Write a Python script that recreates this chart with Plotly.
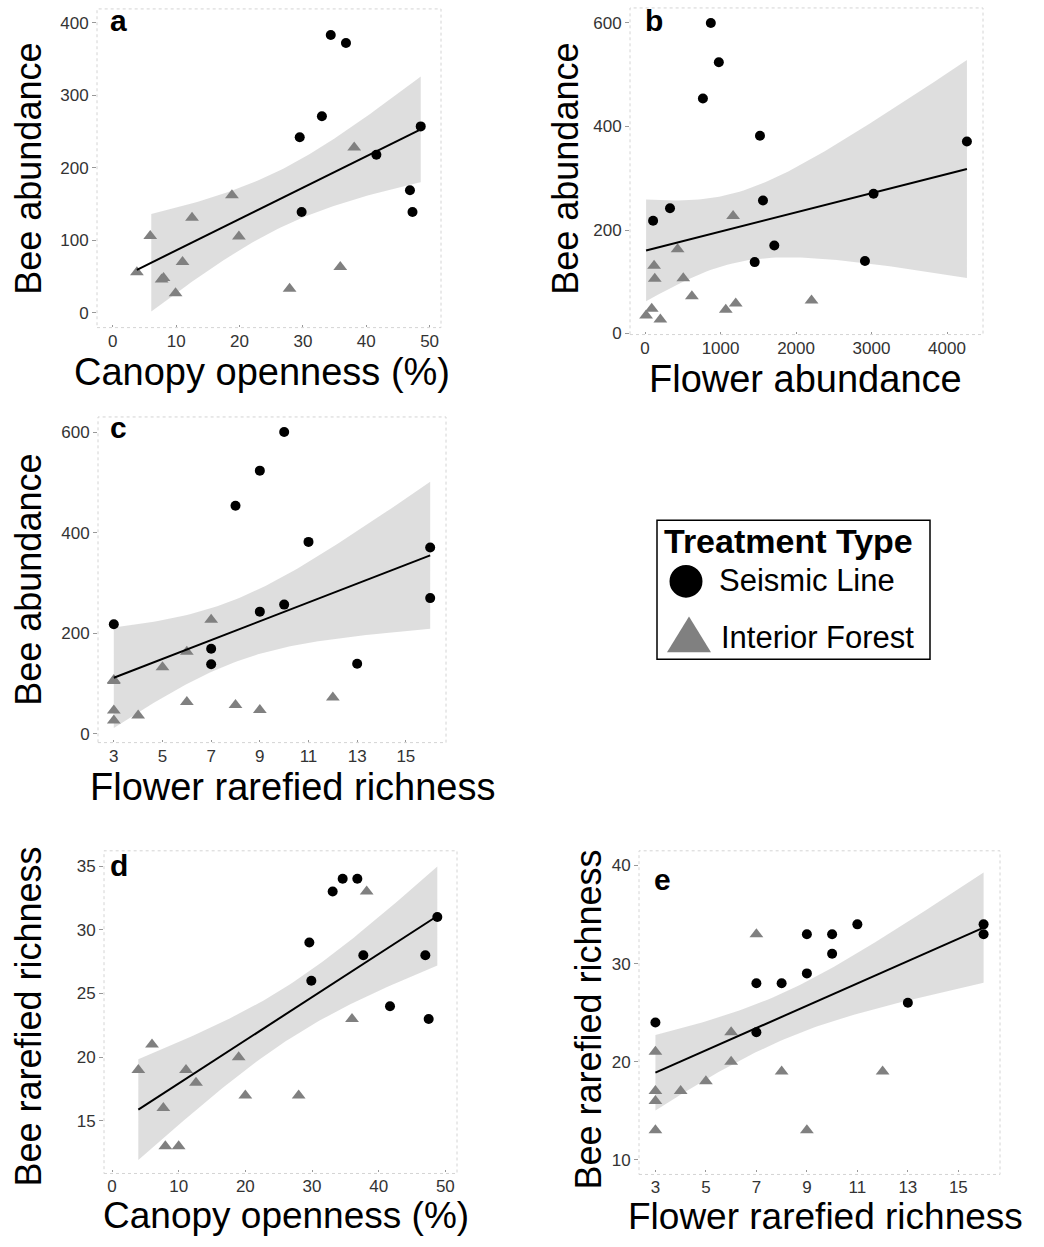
import numpy as np
import plotly.graph_objects as go

W, H = 1044, 1247
FONT = "Liberation Sans, Arial, sans-serif"

# ---------------- data ----------------
# a: Canopy openness (%) vs Bee abundance
a_sl_x = [34.4, 36.8, 33.0, 29.5, 48.6, 41.6, 46.9, 29.8, 47.3]
a_sl_y = [383, 372, 271, 242, 257, 218, 169, 139, 139]
a_if_x = [3.8, 5.9, 7.7, 8.0, 9.9, 11.0, 12.5, 18.8, 19.9, 27.9, 35.9, 38.1]
a_if_y = [56, 106, 46, 48, 27, 70, 131, 162, 105, 33, 63, 228]

# b: Flower abundance vs Bee abundance
b_sl_x = [871, 977, 766, 1522, 4264, 330, 106, 1562, 3027, 1712, 1452, 2913]
b_sl_y = [600, 524, 454, 382, 371, 242, 218, 257, 270, 170, 138, 140]
b_if_x = [1166, 431, 119, 128, 506, 620, 2205, 1201, 1069, 88, 13, 202]
b_if_y = [227, 163, 131, 106, 107, 72, 64, 58, 46, 48, 35, 27]

# c: Flower rarefied richness vs Bee abundance
c_sl_x = [10, 9, 8, 11, 16, 16, 10, 9, 3, 7, 7, 13]
c_sl_y = [601, 524, 454, 382, 371, 270, 257, 243, 218, 169, 138, 139]
c_if_x = [7, 6, 5, 3, 3, 6, 8, 12, 9, 3, 4, 3]
c_if_y = [227, 163, 132, 105, 107, 63, 57, 72, 47, 46, 36, 26]

# d: Canopy openness (%) vs Bee rarefied richness
d_sl_x = [34.6, 36.8, 33.1, 29.6, 48.8, 29.9, 37.7, 47.0, 41.7, 47.5]
d_sl_y = [34, 34, 33, 29, 31, 26, 28, 28, 24, 23]
d_if_x = [38.2, 36.0, 6.0, 3.95, 19.0, 11.1, 12.6, 20.0, 28.0, 7.7, 8.0, 10.0]
d_if_y = [33, 23, 21, 19, 20, 19, 18, 17, 17, 16, 13, 13]

# e: Flower rarefied richness vs Bee rarefied richness
e_sl_x = [11, 9, 10, 10, 9, 7, 8, 16, 16, 13, 3, 7]
e_sl_y = [34, 33, 33, 31, 29, 28, 28, 34, 33, 26, 24, 23]
e_if_x = [7, 6, 3, 6, 8, 12, 5, 3, 4, 3, 3, 9]
e_if_y = [33, 23, 21, 20, 19, 19, 18, 17, 17, 16, 13, 13]

# tick labels
ticks_canopy = [0, 10, 20, 30, 40, 50]
ticks_flower_abund = [0, 1000, 2000, 3000, 4000]
ticks_flower_rich = [3, 5, 7, 9, 11, 13, 15]
ticks_bee_abund_a = [0, 100, 200, 300, 400]
ticks_bee_abund_bc = [0, 200, 400, 600]
ticks_bee_rich_d = [15, 20, 25, 30, 35]
ticks_bee_rich_e = [10, 20, 30, 40]

panel_labels = ["a", "b", "c", "d", "e"]
x_titles = ["Canopy openness (%)", "Flower abundance", "Flower rarefied richness",
            "Canopy openness (%)", "Flower rarefied richness"]
y_titles = ["Bee abundance", "Bee abundance", "Bee abundance",
            "Bee rarefied richness", "Bee rarefied richness"]
legend_title = "Treatment Type"
legend_labels = ["Seismic Line", "Interior Forest"]

# t(0.975, df) critical values
T975 = {19: 2.093, 20: 2.086, 21: 2.080, 22: 2.074, 23: 2.069}

# ---------------- layout geometry (pixels) ----------------
panels = [
    dict(sl=(a_sl_x, a_sl_y), inf=(a_if_x, a_if_y), px=(97, 441), py=(9, 330),
         xr=[-2.5, 51.8], yr=[-20.5, 419], xt=ticks_canopy, yt=ticks_bee_abund_a,
         ylim=(0, 400), xtitle=(262, 375), xts=38, lift=4, ytitle=(29, 170), lab=(108, 21)),
    dict(sl=(b_sl_x, b_sl_y), inf=(b_if_x, b_if_y), px=(630, 983), py=(8, 337),
         xr=[-200, 4477], yr=[-2, 629], xt=ticks_flower_abund, yt=ticks_bee_abund_bc,
         ylim=None, xtitle=(805, 382), xts=38, lift=4, ytitle=(566, 170), lab=(643, 21)),
    dict(sl=(c_sl_x, c_sl_y), inf=(c_if_x, c_if_y), px=(98, 446), py=(420, 748),
         xr=[2.35, 16.65], yr=[-18, 631], xt=ticks_flower_rich, yt=ticks_bee_abund_bc,
         ylim=None, xtitle=(292, 793), xts=38, lift=4, ytitle=(29, 584), lab=(108, 431)),
    dict(sl=(d_sl_x, d_sl_y), inf=(d_if_x, d_if_y), px=(104, 457), py=(857, 1182),
         xr=[-1.2, 51.75], yr=[10.87, 36.2], xt=ticks_canopy, yt=ticks_bee_rich_d,
         ylim=None, xtitle=(286, 1224.5), xts=37, lift=5, ytitle=(29, 1024), lab=(108, 872)),
    dict(sl=(e_sl_x, e_sl_y), inf=(e_if_x, e_if_y), px=(639, 1000), py=(857, 1183),
         xr=[2.35, 16.65], yr=[8.5, 41.5], xt=ticks_flower_rich, yt=ticks_bee_rich_e,
         ylim=(10, 40), xtitle=(825, 1225), xts=37, lift=5, ytitle=(589, 1027), lab=(652, 886)),
]


def fx(p):
    return p / W


def fy(p):
    return 1 - p / H


fig = go.Figure()
annotations = []
shapes = []
layout = {}

for i, P in enumerate(panels, start=1):
    s = "" if i == 1 else str(i)
    xa, ya = "x" + s, "y" + s

    X = np.array(P["sl"][0] + P["inf"][0], float)
    Y = np.array(P["sl"][1] + P["inf"][1], float)
    n = len(X)
    b1, b0 = np.polyfit(X, Y, 1)
    xm = X.mean()
    sxx = ((X - xm) ** 2).sum()
    resid = Y - (b0 + b1 * X)
    sres = np.sqrt((resid ** 2).sum() / (n - 2))
    xg = np.linspace(X.min(), X.max(), 80)
    yg = b0 + b1 * xg
    se = sres * np.sqrt(1.0 / n + (xg - xm) ** 2 / sxx)
    t = T975[n - 2]
    lo, hi = yg - t * se, yg + t * se
    mask = np.ones_like(xg, bool)
    if P["ylim"] is not None:
        mask = (lo >= P["ylim"][0]) & (hi <= P["ylim"][1])
    bx = np.concatenate([xg[mask], xg[mask][::-1]])
    by = np.concatenate([hi[mask], lo[mask][::-1]])

    fig.add_trace(go.Scatter(x=bx, y=by, fill="toself", fillcolor="rgba(153,153,153,0.32)",
                             line=dict(width=0), mode="lines", hoverinfo="skip",
                             showlegend=False, xaxis=xa, yaxis=ya))
    fig.add_trace(go.Scatter(x=P["inf"][0], y=P["inf"][1], mode="markers",
                             marker=dict(symbol="triangle-up", size=12, color="#808080"),
                             showlegend=False, xaxis=xa, yaxis=ya))
    fig.add_trace(go.Scatter(x=P["sl"][0], y=P["sl"][1], mode="markers",
                             marker=dict(symbol="circle", size=10, color="black"),
                             showlegend=False, xaxis=xa, yaxis=ya))
    fig.add_trace(go.Scatter(x=xg, y=yg, mode="lines", line=dict(color="black", width=2),
                             hoverinfo="skip", showlegend=False, xaxis=xa, yaxis=ya))

    tickfont = dict(family=FONT, size=17, color="#333333")
    layout["xaxis" + s] = dict(domain=[fx(P["px"][0]), fx(P["px"][1])], range=P["xr"],
                               anchor="free", position=fy(P["py"][1] - P["lift"]),
                               tickvals=P["xt"], ticks="outside", ticklen=2,
                               tickcolor="#999999", tickfont=tickfont, showgrid=False,
                               zeroline=False, showline=False)
    layout["yaxis" + s] = dict(domain=[fy(P["py"][1]), fy(P["py"][0])], range=P["yr"],
                               anchor=xa, tickvals=P["yt"], ticks="outside", ticklen=4,
                               tickcolor="#999999", tickfont=tickfont, showgrid=False,
                               zeroline=False, showline=False)
    shapes.append(dict(type="rect", xref=xa + " domain", yref=ya + " domain",
                       x0=0, x1=1, y0=0, y1=1, line=dict(color="#d4d4d4", width=1, dash="dot"),
                       layer="below"))
    k = i - 1
    annotations.append(dict(text=x_titles[k], x=fx(P["xtitle"][0]), y=fy(P["xtitle"][1]),
                            xref="paper", yref="paper", xanchor="center", yanchor="middle",
                            showarrow=False, font=dict(family=FONT, size=P["xts"], color="black")))
    annotations.append(dict(text=y_titles[k], x=fx(P["ytitle"][0]), y=fy(P["ytitle"][1]),
                            xref="paper", yref="paper", xanchor="center", yanchor="middle",
                            textangle=-90, showarrow=False,
                            font=dict(family=FONT, size=36, color="black")))
    annotations.append(dict(text="<b>%s</b>" % panel_labels[k], x=fx(P["lab"][0]),
                            y=fy(P["lab"][1]), xref="paper", yref="paper", xanchor="left",
                            yanchor="middle", showarrow=False,
                            font=dict(family=FONT, size=30, color="black")))

# ---------------- legend (drawn as layout decoration) ----------------
shapes.append(dict(type="rect", xref="paper", yref="paper", x0=fx(657), x1=fx(930),
                   y0=fy(664), y1=fy(524), line=dict(color="black", width=1.5)))
shapes.append(dict(type="circle", xref="paper", yref="paper", x0=fx(669.5), x1=fx(702.5),
                   y0=fy(602), y1=fy(569), fillcolor="black", line=dict(width=0)))
shapes.append(dict(type="path", xref="paper", yref="paper",
                   path="M %f,%f L %f,%f L %f,%f Z" % (fx(667), fy(657), fx(711), fy(657),
                                                       fx(689), fy(621)),
                   fillcolor="#808080", line=dict(width=0)))
annotations.append(dict(text="<b>%s</b>" % legend_title, x=fx(662), y=fy(545), xref="paper",
                        yref="paper", xanchor="left", yanchor="middle", showarrow=False,
                        font=dict(family=FONT, size=34, color="black")))
annotations.append(dict(text=legend_labels[0], x=fx(717), y=fy(585), xref="paper",
                        yref="paper", xanchor="left", yanchor="middle", showarrow=False,
                        font=dict(family=FONT, size=31, color="black")))
annotations.append(dict(text=legend_labels[1], x=fx(719), y=fy(642), xref="paper",
                        yref="paper", xanchor="left", yanchor="middle", showarrow=False,
                        font=dict(family=FONT, size=31, color="black")))

fig.update_layout(width=W, height=H, margin=dict(l=0, r=0, t=0, b=0),
                  paper_bgcolor="white", plot_bgcolor="white", showlegend=False,
                  shapes=shapes, annotations=annotations, **layout)

fig.write_html("out.html")
